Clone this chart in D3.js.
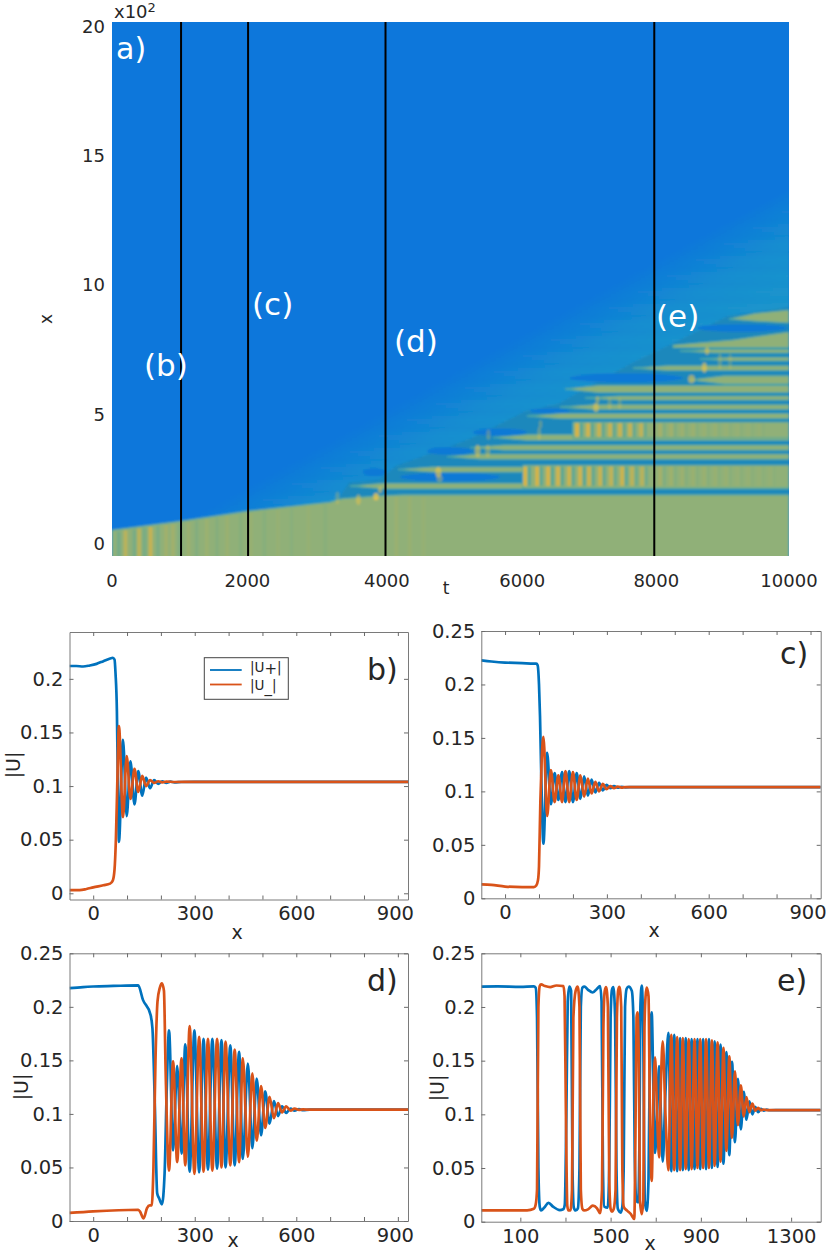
<!DOCTYPE html>
<html><head><meta charset="utf-8">
<script src="https://cdn.jsdelivr.net/npm/d3@7"></script>
<style>
html,body{margin:0;padding:0;background:#fff}
svg{display:block}
text{font-family:"DejaVu Sans",sans-serif;fill:#262626}
</style></head><body><svg id="c" width="830" height="1255"></svg>
<script>
// ---- panel a : space-time map
const tTicks=[0,2000,4060,6060,8040,10000];
const tTickLabels=['0','2000','4000','6000','8000','10000'];
const xTicks=[0,500,1000,1500,2000];
const xTickLabels=['0','5','10','15','20'];
const cutTimes=[1020,2010,4040,8010];
const frontEdge=[[0,50],[1019,85],[2009,124],[3220,159],[3400,172],[4000,184],[4300,187],[10000,187]];
const fieldEdge=[[3300,150],[3500,235],[3950,245],[4200,300],[4900,365],[5300,405],[6100,510],[6600,540],[7000,600],[7700,700],[8300,775],[9100,880],[10000,915]];
const wedgeEdge=[[0,50],[2038,244],[4550,593],[7208,980],[10000,1368]];
// [tip t, x centre, half width]
const fingers=[[3515,221,11],[4224,285,10],[4948,335,10],[5288,370,10],[5627,409,11],[6130,492,10],[6617,527,9],[6986,562,8],[6691,597,14],[8537,632,16],[7695,678,9],[8685,713,7],[8389,744,7]];
const oscBlocks=[[6070,213,302],[6809,407,469]];
const mainCap=[[8286,757],[8286,767],[8640,775],[9172,787],[9674,806],[10000,818],[10000,757]];
const topCap=[[9113,868],[9500,890],[10000,903],[10000,853],[9500,860]];
// [t start, t end, x, half width]
const deepLens=[[4254,5730,256,17],[4650,5330,357,15],[5330,6130,430,14],[6174,6765,512,10],[6765,8434,640,18],[8640,9970,833,15],[3700,4050,275,16]];
// [t, strength]
const lowBars=[[100,-.35],[200,.5],[330,-.3],[400,.5],[480,-.3],[570,.65],[680,-.25],[800,.2],[900,.2],[1000,-.2],[1130,.15],[1250,-.15],[1400,.14],[1550,-.12],[1700,.12],[1900,-.1],[2050,.1],[2250,-.1],[2450,.08],[2650,-.08],[2900,.08],[3150,-.07],[4200,.12],[4400,.1],[4600,.08]];
const osc1Bars=[[6100,.9],[6277,.85],[6440,.85],[6587,.8],[6750,.75],[6912,.8],[7045,.7],[7208,.7],[7370,.6],[7533,.75],[7680,.55],[7828,.5],[8094,.25],[8256,.18],[8419,.15],[8581,.12],[8744,.12],[8906,.1],[9069,.1],[9231,.08],[9394,.08],[9556,.06],[9719,.06]];
const osc2Bars=[[6868,.9],[7030,.8],[7193,.7],[7355,.7],[7503,.7],[7651,.65],[7813,.6],[8094,.25],[8256,.2],[8419,.15],[8581,.13],[8744,.1],[8906,.1],[9069,.08],[9231,.08],[9394,.07],[9556,.05]];
// [t, x, half t, half x, strength]
const spots=[[3640,168,35,20,.5],[3900,180,40,14,.8],[3960,206,30,12,.55],[3330,175,30,25,.3],[4820,275,45,20,.65],[4840,250,45,14,.4],[5400,357,40,24,.55],[5550,357,35,24,.4],[5560,420,30,20,.3],[6310,425,25,26,.35],[6330,460,25,16,.3],[7150,525,40,18,.6],[7170,555,28,14,.45],[7350,540,30,22,.3],[7500,540,28,20,.28],[8560,635,50,16,.6],[8750,680,35,20,.65],[8790,745,30,16,.55],[8980,705,28,32,.3],[9130,705,28,32,.25]];

// ---- panels b..e : extremes and turning points of |U+| and |U_|
const bPlus=[[-70,.212],[-50,.212],[-30,.2115],[-10,.2125],[10,.214],[30,.2165],[50,.219],[58,.2197],[63,.218],[66,.205],[70,.17],[73,.1],[76,.048],[88,.143],[99,.072],[110,.123],[122,.083],[133,.114],[145,.091],[156,.108],[168,.098],[180,.1055],[192,.102],[204,.1045],[216,.103],[228,.1042],[240,.1035],[260,.1038],[300,.104],[930,.104]];
const bMinus=[[-70,.003],[-40,.003],[-20,.004],[0,.0055],[30,.0075],[50,.009],[58,.012],[63,.022],[67,.05],[71,.1],[76,.156],[88,.071],[99,.128],[110,.088],[122,.116],[133,.0945],[145,.1095],[156,.1],[168,.1055],[180,.103],[192,.1045],[204,.1035],[216,.1042],[240,.1038],[300,.104],[930,.104]];
const cPlus=[[-70,.2225],[-40,.2215],[0,.2205],[50,.22],[85,.2195],[92,.2195],[96,.218],[100,.2],[103,.17],[107,.11],[113,.051],[124,.136],[135,.088],[146,.117],[157,.092],[168,.118],[178,.09],[189,.119],[200,.09],[211,.117],[222,.093],[233,.114],[244,.096],[255,.111],[266,.099],[277,.108],[288,.101],[299,.106],[310,.103],[321,.105],[332,.1035],[343,.1043],[354,.1038],[380,.104],[930,.104]];
const cMinus=[[-70,.013],[-40,.0125],[0,.011],[50,.0105],[85,.0105],[92,.012],[97,.017],[100,.03],[104,.09],[108,.13],[113,.151],[124,.077],[135,.12],[146,.09],[157,.115],[168,.09],[178,.119],[189,.09],[200,.118],[211,.092],[222,.115],[233,.095],[244,.112],[255,.098],[266,.109],[277,.1],[288,.107],[299,.102],[310,.105],[321,.103],[332,.1045],[343,.1035],[354,.104],[930,.104]];
const dPlus=[[-70,.2175],[-30,.2185],[0,.219],[60,.2195],[133,.22],[147,.2065],[169,.193],[175,.18],[182,.11],[189,.026],[195,.021],[203,.0155],[211,.045],[217,.12],[224,.178],[236,.066],[248,.145],[261,.063],[272,.165],[285,.046],[299,.178],[313,.0455],[326,.17],[339,.048],[352,.17],[366,.049],[379,.169],[391,.05],[405,.164],[418,.052],[431,.158],[442,.058],[457,.147],[470,.068],[483,.133],[496,.08],[508,.121],[521,.091],[534,.112],[546,.098],[558,.107],[570,.101],[583,.105],[595,.103],[608,.1045],[620,.1035],[640,.104],[930,.104]];
const dMinus=[[-70,.0075],[0,.009],[133,.0105],[138,.009],[149,.0025],[159,.012],[167,.0145],[173,.0145],[178,.05],[184,.15],[190,.205],[197,.218],[203,.222],[209,.215],[214,.14],[224,.047],[236,.149],[248,.055],[261,.152],[272,.052],[285,.182],[299,.044],[313,.172],[326,.046],[339,.17],[352,.047],[366,.17],[379,.05],[391,.1675],[405,.052],[418,.16],[431,.055],[442,.152],[457,.06],[470,.138],[483,.075],[496,.126],[508,.087],[521,.116],[534,.096],[546,.11],[558,.1015],[570,.107],[583,.103],[595,.105],[608,.1038],[620,.1042],[640,.104],[930,.104]];
const ePlus=[[-73,.219],[0,.2192],[100,.2188],[160,.2192],[168,.218],[174,.19],[180,.05],[186,.014],[192,.0105],[205,.013],[225,.0175],[245,.014],[275,.0108],[290,.0115],[297,.016],[304,.1],[310,.205],[317,.219],[325,.215],[331,.05],[337,.013],[345,.0105],[355,.0125],[362,.05],[368,.2],[375,.218],[384,.219],[400,.216],[421,.2135],[440,.217],[453,.2195],[460,.205],[466,.05],[472,.014],[487,.013],[494,.05],[500,.19],[506,.216],[512,.2185],[520,.19],[526,.05],[532,.012],[545,.0085],[552,.014],[558,.05],[564,.2],[571,.217],[580,.219],[594,.215],[601,.19],[607,.06],[614,.02],[622,.018],[628,.08],[632,.2],[638,.22],[645,.17],[651,.02],[660,.01],[668,.04],[675,.17],[682,.195],[690,.12],[697,.064],[706,.1],[715,.145],[723,.1],[731,.056],[743,.12],[756,.176],[769,.047],[782,.174],[795,.047],[808,.171],[820,.048],[833,.171],[846,.048],[859,.17],[872,.049],[885,.17],[897,.049],[910,.17],[923,.049],[936,.17],[949,.05],[961,.168],[974,.051],[987,.165],[1000,.054],[1013,.158],[1026,.062],[1038,.149],[1051,.074],[1064,.133],[1077,.086],[1090,.121],[1102,.095],[1115,.112],[1128,.1],[1141,.107],[1154,.102],[1166,.105],[1179,.1035],[1192,.1044],[1205,.1038],[1260,.104],[1431,.104]];
const eMinus=[[-73,.0105],[60,.0105],[130,.0105],[160,.012],[168,.016],[174,.03],[180,.2],[186,.2195],[192,.221],[209,.2195],[232,.2185],[260,.22],[291,.2195],[296,.21],[302,.1],[308,.015],[313,.0105],[322,.0105],[329,.03],[335,.19],[345,.215],[354,.219],[362,.2],[368,.03],[375,.012],[382,.0105],[400,.0115],[421,.015],[440,.0125],[453,.008],[462,.03],[468,.18],[474,.215],[480,.2185],[488,.2],[494,.04],[500,.012],[506,.0095],[514,.012],[522,.03],[528,.19],[534,.216],[539,.2188],[547,.2],[552,.05],[558,.014],[572,.0105],[590,.007],[605,.0025],[610,.08],[615,.19],[619,.195],[625,.15],[630,.02],[638,.007],[645,.02],[650,.18],[655,.21],[660,.218],[668,.21],[674,.1],[682,.038],[690,.12],[697,.153],[706,.1],[715,.06],[723,.13],[731,.168],[743,.1],[756,.048],[769,.174],[782,.048],[795,.172],[808,.048],[820,.171],[833,.049],[846,.17],[859,.049],[872,.17],[885,.05],[897,.17],[910,.05],[923,.17],[936,.05],[949,.169],[961,.052],[974,.167],[987,.056],[1000,.162],[1013,.066],[1026,.154],[1038,.078],[1051,.14],[1064,.09],[1077,.127],[1090,.098],[1102,.116],[1115,.102],[1128,.11],[1141,.1035],[1154,.106],[1166,.1038],[1179,.1045],[1192,.104],[1431,.104]];

const xTicksShort=[0,100,200,300,400,500,600,700,800,900];
const xLabelsShort=[0,300,600,900];
const xTicksE=[100,300,500,700,900,1100,1300];
const xLabelsE=[100,500,900,1300];
const uTicks=[0,.05,.1,.15,.2,.25];

const C={deep:'#0c77db',field:'#1e88bc',green:'#90b078',yellow:'#e6b53c',teal:'#3fa3a6',edge:'#4aa8a4',black:'#000',plus:'#0072bd',minus:'#d95319'};
const svg=d3.select('#c');
const defs=svg.append('defs');
defs.append('filter').attr('id','soft').attr('x','-5%').attr('y','-5%').attr('width','110%').attr('height','110%')
  .append('feGaussianBlur').attr('stdDeviation',1);
defs.append('clipPath').attr('id','mapClip').append('rect').attr('x',112).attr('y',22).attr('width',677).attr('height',534);

const T=d3.scaleLinear([0,10000],[112,789]);
const X=d3.scaleLinear([-50,2019],[556,22]);
const frontAt=d3.scaleLinear(frontEdge.map(d=>d[0]),frontEdge.map(d=>d[1]));

function wedgeGradient(id,stops){
  const g=defs.append('linearGradient').attr('id',id).attr('gradientUnits','userSpaceOnUse')
    .attr('x1',T(7208)).attr('y1',X(980)).attr('x2',T(8241)).attr('y2',X(492));
  stops.forEach(s=>g.append('stop').attr('offset',s[0]).attr('stop-color',s[1]).attr('stop-opacity',s[2]));
}
wedgeGradient('wedgeGrad',[[0,'#0e80d6',0],[.3,'#0e84d4',1],[.8,'#1690cc',1],[1,'#1a94c8',1]]);
wedgeGradient('maskGrad',[[0,'#fff',0],[.35,'#fff',1],[1,'#fff',1]]);
const wedgePoly=wedgeEdge.concat([[10000,-50],[0,-50]]);
const L=d3.line().x(d=>T(d[0])).y(d=>X(d[1]));
defs.append('mask').attr('id','wedgeMask').attr('maskUnits','userSpaceOnUse').attr('x',0).attr('y',0).attr('width',830).attr('height',600)
  .append('path').attr('d',L(wedgePoly)+'Z').attr('fill','url(#maskGrad)');
const pat=defs.append('pattern').attr('id','banding').attr('patternUnits','userSpaceOnUse').attr('width',6).attr('height',3.2);
pat.append('rect').attr('width',6).attr('height',1.5).attr('fill','#34b0c4').attr('opacity',.38);

const map=svg.append('g').attr('clip-path','url(#mapClip)');
const m=map.append('g').attr('filter','url(#soft)');
m.append('rect').attr('x',T(-100)).attr('y',X(2100)).attr('width',T(10100)-T(-100)).attr('height',X(-100)-X(2100)).attr('fill',C.deep);
m.append('path').attr('d',L(wedgePoly)+'Z').attr('fill','url(#wedgeGrad)');
m.append('rect').attr('x',112).attr('y',22).attr('width',677).attr('height',534).attr('fill','url(#banding)').attr('mask','url(#wedgeMask)');
m.append('path').attr('d',L(fieldEdge.concat([[10000,100],[3300,100]]))+'Z').attr('fill',C.field);
m.selectAll('ellipse.lens').data(deepLens).join('ellipse').attr('class','lens')
  .attr('cx',d=>T((d[0]+d[1])/2)).attr('cy',d=>X(d[2])).attr('rx',d=>T(d[1])-T((d[0]+d[1])/2)).attr('ry',d=>X(d[2]-d[3])-X(d[2]))
  .attr('fill','#1079d6');
m.append('path').attr('d',d3.area().x(d=>T(d[0])).y0(X(-100)).y1(d=>X(d[1]))(frontEdge)).attr('fill',C.green).attr('stroke',C.edge).attr('stroke-width',1.2);
// green bands
m.selectAll('path.finger').data(fingers).join('path').attr('class','finger').attr('fill',C.green).attr('stroke',C.edge).attr('stroke-width',1)
  .attr('d',d=>L([[d[0],d[1]],[d[0]+500,d[1]+d[2]],[10000,d[1]+d[2]],[10000,d[1]-d[2]],[d[0]+500,d[1]-d[2]]])+'Z');
m.selectAll('rect.block').data(oscBlocks).join('rect').attr('class','block').attr('fill',C.green).attr('stroke',C.edge).attr('stroke-width',1)
  .attr('x',d=>T(d[0])).attr('width',d=>T(10000)-T(d[0])).attr('y',d=>X(d[2])).attr('height',d=>X(d[1])-X(d[2]));
m.append('path').attr('d',L(mainCap)+'Z').attr('fill',C.green).attr('stroke',C.edge).attr('stroke-width',1);
m.append('path').attr('d',L(topCap)+'Z').attr('fill',C.green).attr('stroke',C.edge).attr('stroke-width',1);
// oscillation bars
function bars(cls,data,x0,x1){
  m.selectAll('rect.'+cls+'y').data(data).join('rect').attr('class',cls+'y')
    .attr('x',d=>T(d[0])-1.6).attr('width',3.4).attr('y',X(x1)).attr('height',X(x0)-X(x1))
    .attr('fill',C.yellow).attr('opacity',d=>d[1]);
  m.selectAll('rect.'+cls+'t').data(data).join('rect').attr('class',cls+'t')
    .attr('x',d=>T(d[0])+3).attr('width',3).attr('y',X(x1)).attr('height',X(x0)-X(x1))
    .attr('fill',C.teal).attr('opacity',d=>d[1]*.8);
}
bars('o1',osc1Bars,222,296);
bars('o2',osc2Bars,412,464);
m.selectAll('rect.low').data(lowBars).join('rect').attr('class','low')
  .attr('x',d=>T(d[0])-1.8).attr('width',3.6)
  .attr('y',d=>X(frontAt(d[0])-8)).attr('height',d=>X(-60)-X(frontAt(d[0])-8))
  .attr('fill',d=>d[1]>0?C.yellow:C.teal).attr('opacity',d=>Math.abs(d[1]));
m.selectAll('ellipse.spot').data(spots).join('ellipse').attr('class','spot')
  .attr('cx',d=>T(d[0])).attr('cy',d=>X(d[1])).attr('rx',d=>T(d[2])-T(0)).attr('ry',d=>X(0)-X(d[3]))
  .attr('fill','#ecc44a').attr('opacity',d=>d[4]);
// cuts
map.selectAll('line.cut').data(cutTimes).join('line').attr('class','cut')
  .attr('x1',d=>T(d)).attr('x2',d=>T(d)).attr('y1',22).attr('y2',556).attr('stroke',C.black).attr('stroke-width',2);

// map labels
svg.selectAll('text.tt').data(tTicks).join('text').attr('class','tt')
  .attr('x',d=>T(d)).attr('y',587).attr('text-anchor','middle').attr('font-size',18).text((d,i)=>tTickLabels[i]);
svg.selectAll('text.xt').data(xTicks).join('text').attr('class','xt')
  .attr('x',105).attr('y',d=>X(d)+6.5).attr('text-anchor','end').attr('font-size',18).text((d,i)=>xTickLabels[i]);
svg.append('text').attr('x',446).attr('y',594).attr('text-anchor','middle').attr('font-size',17).text('t');
svg.append('text').attr('x',47).attr('y',319).attr('text-anchor','middle').attr('font-size',17)
  .attr('transform','rotate(-90 47 319)').attr('dy','.3em').text('x');
const pow=svg.append('text').attr('x',114).attr('y',18).attr('font-size',18).text('x10');
pow.append('tspan').attr('dy',-6).attr('font-size',13).text('2');
const white=[['a)',116,59],['(b)',144,376],['(c)',252,315],['(d)',394,352],['(e)',656,327]];
svg.selectAll('text.wh').data(white).join('text').attr('class','wh')
  .attr('x',d=>d[1]).attr('y',d=>d[2]).attr('font-size',d=>d[0]==='a)'?30:31).style('fill','#fff').text(d=>d[0]);

// line panels
function panel(o){
  const x=d3.scaleLinear(o.xd,[o.l,o.r]), y=d3.scaleLinear(o.yd,[o.b,o.t]);
  const g=svg.append('g');
  const id='clip'+o.name;
  defs.append('clipPath').attr('id',id).append('rect').attr('x',o.l).attr('y',o.t).attr('width',o.r-o.l).attr('height',o.b-o.t);
  const line=d3.line().x(d=>x(d[0])).y(d=>y(d[1])).curve(d3.curveMonotoneX);
  const body=g.append('g').attr('clip-path',`url(#${id})`);
  body.append('path').attr('d',line(o.plus)).attr('fill','none').attr('stroke',C.plus).attr('stroke-width',2.7).attr('stroke-linejoin','round');
  body.append('path').attr('d',line(o.minus)).attr('fill','none').attr('stroke',C.minus).attr('stroke-width',2.7).attr('stroke-linejoin','round');
  const axB=d3.axisBottom(x).tickValues(o.xv).tickSizeInner(-4).tickSizeOuter(0).tickPadding(7)
    .tickFormat(d=>o.xl.includes(d)?String(d):'');
  const axT=d3.axisTop(x).tickValues(o.xv).tickSizeInner(-4).tickSizeOuter(0).tickFormat('');
  const axL=d3.axisLeft(y).tickValues(o.yv).tickSizeInner(-4).tickSizeOuter(0).tickPadding(6).tickFormat(d=>String(+d.toFixed(2)));
  const axR=d3.axisRight(y).tickValues(o.yv).tickSizeInner(-4).tickSizeOuter(0).tickFormat('');
  const sets=[[axB,`translate(0,${o.b})`],[axT,`translate(0,${o.t})`],[axL,`translate(${o.l},0)`],[axR,`translate(${o.r},0)`]];
  sets.forEach(([a,tr])=>{
    const ag=g.append('g').attr('transform',tr).call(a);
    ag.selectAll('path.domain').attr('stroke','#7a7a7a').attr('stroke-width',1);
    ag.selectAll('line').attr('stroke','#6a6a6a').attr('stroke-width',1);
    ag.selectAll('text').attr('font-size',19.5).attr('font-family','DejaVu Sans').style('fill','#262626');
    ag.selectAll('.tick').filter(d=>d===900&&o.name!=='e').selectAll('text').attr('dx',-3);
  });
  g.append('text').attr('x',o.tag[1]).attr('y',o.tag[2]).attr('font-size',30).text(o.tag[0]);
  g.append('text').attr('x',o.xlab[0]).attr('y',o.xlab[1]).attr('text-anchor','middle').attr('font-size',19).text('x');
  if(o.ylab) g.append('text').attr('font-size',19).attr('text-anchor','middle')
    .attr('transform',`translate(${o.ylab[0]},${o.ylab[1]}) rotate(-90)`).attr('dy','.35em').text('|U|');
  return g;
}
const gb=panel({name:'b',l:69.5,r:408,t:632,b:899.5,xd:[-70,930],yd:[-.0058,.2437],xv:xTicksShort,xl:xLabelsShort,yv:uTicks.slice(0,5),
  plus:bPlus,minus:bMinus,tag:['b)',367,680],xlab:[237,939],ylab:[13,765]});
panel({name:'c',l:481.3,r:820.7,t:631,b:898.3,xd:[-70,930],yd:[0,.25],xv:xTicksShort,xl:xLabelsShort,yv:uTicks,
  plus:cPlus,minus:cMinus,tag:['c)',780,664],xlab:[654,937]});
panel({name:'d',l:69.5,r:408,t:953.3,b:1221,xd:[-70,930],yd:[0,.25],xv:xTicksShort,xl:xLabelsShort,yv:uTicks,
  plus:dPlus,minus:dMinus,tag:['d)',367,991],xlab:[233,1247],ylab:[21,1087]});
panel({name:'e',l:481.3,r:820.7,t:953.3,b:1221.7,xd:[-73,1431],yd:[0,.25],xv:xTicksE,xl:xLabelsE,yv:uTicks,
  plus:ePlus,minus:eMinus,tag:['e)',777,991],xlab:[650,1250],ylab:[437,1088]});

// legend
const leg=gb.append('g');
leg.append('rect').attr('x',204.3).attr('y',657.7).attr('width',84).attr('height',41.6).attr('fill','#fff').attr('stroke','#444').attr('stroke-width',1);
const legRows=[['+',670,C.plus,671.5],['_',684.5,C.minus,689.5]];
legRows.forEach(r=>{
  leg.append('line').attr('x1',210).attr('x2',241.7).attr('y1',r[1]).attr('y2',r[1]).attr('stroke',r[2]).attr('stroke-width',1.8);
  const t=leg.append('text').attr('x',250).attr('y',r[3]).attr('font-size',13.5).text('|U');
  t.append('tspan').attr('dy',2).attr('font-size',15).text(r[0]);
  t.append('tspan').attr('dy',-2).text('|');
});
</script></body></html>
